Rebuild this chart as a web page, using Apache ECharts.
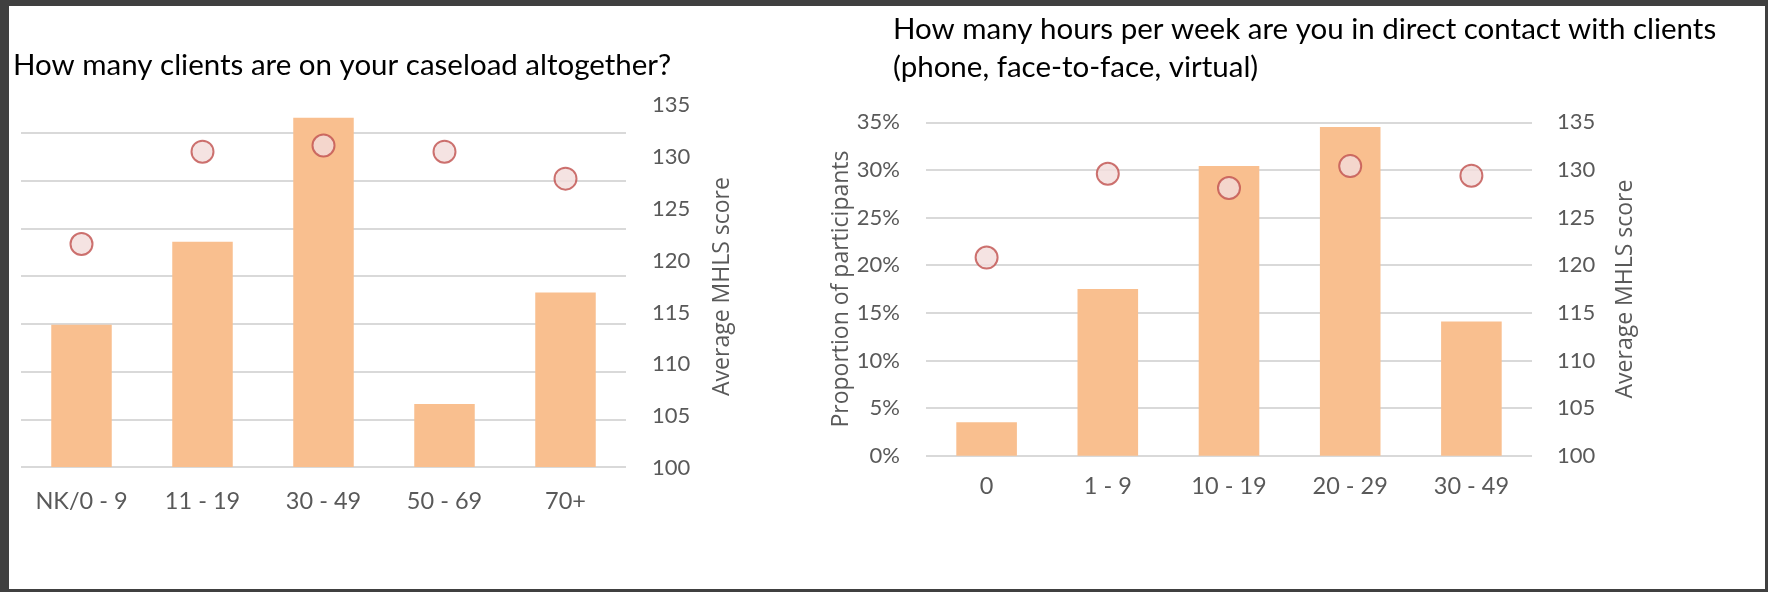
<!DOCTYPE html>
<html>
<head>
<meta charset="utf-8">
<script src="https://cdn.jsdelivr.net/npm/echarts@6/dist/echarts.min.js"></script>
<style>
html,body{margin:0;padding:0;background:#404040;width:1768px;height:592px;overflow:hidden;}
#panel{position:absolute;left:9px;top:6px;width:1756px;height:583px;background:#fff;}
#chart{position:absolute;left:0;top:0;width:1768px;height:592px;}
</style>
</head>
<body>
<div id="panel"></div>
<div id="chart"></div>
<script>
// ---- data ----
const leftTitle = 'How many clients are on your caseload altogether?';
const rightTitle = 'How many hours per week are you in direct contact with clients\n(phone, face-to-face, virtual)';
const leftCategories = ['NK/0 - 9', '11 - 19', '30 - 49', '50 - 69', '70+'];
const leftShare = [14.9, 23.6, 36.6, 6.6, 18.3];        // % of participants
const leftScore = [121.6, 130.5, 131.1, 130.5, 127.9];  // Average MHLS score
const rightCategories = ['0', '1 - 9', '10 - 19', '20 - 29', '30 - 49'];
const rightShare = [3.5, 17.5, 30.4, 34.5, 14.1];
const rightScore = [120.8, 129.6, 128.1, 130.4, 129.4];
const scoreAxisName = 'Average MHLS score';
const shareAxisName = 'Proportion of participants';

const BAR = '#F9BF8F';
const GRID = '#D9D9D9';
const LABEL = '#595959';
const FONT = 'Lato';
const NAMEFONT = 'Open Sans';

const chart = echarts.init(document.getElementById('chart'), null, {renderer: 'canvas'});

const tickLabel = {color: LABEL, fontFamily: FONT, fontSize: 22};
const catLabel = {color: LABEL, fontFamily: FONT, fontSize: 23.5, interval: 0};
const pointStyle = {color: '#F2DCDB', borderColor: '#C0504D', borderWidth: 2};

const option = {
  backgroundColor: 'transparent',
  animation: false,
  title: [
    {text: leftTitle, left: 13, top: 50.5, padding: 0,
     textStyle: {fontFamily: FONT, fontSize: 29.5, fontWeight: 'normal', color: '#000'}},
    {text: rightTitle, left: 893, top: 10.5, padding: 0,
     textStyle: {fontFamily: FONT, fontSize: 29.5, fontWeight: 'normal', color: '#000', lineHeight: 38}}
  ],
  grid: [
    {left: 21, right: 1142, top: 85.4, bottom: 125},
    {left: 21, right: 1142, top: 105, bottom: 124},
    {left: 926, right: 236, top: 122.3, bottom: 136.3}
  ],
  xAxis: [
    {type: 'category', gridIndex: 0, data: leftCategories,
     axisLine: {show: false}, axisTick: {show: false},
     axisLabel: Object.assign({margin: 22}, catLabel)},
    {type: 'category', gridIndex: 1, data: leftCategories, show: false},
    {type: 'category', gridIndex: 2, data: rightCategories,
     axisLine: {show: false}, axisTick: {show: false},
     axisLabel: Object.assign({margin: 19}, catLabel)}
  ],
  yAxis: [
    {type: 'value', gridIndex: 0, min: 0, max: 40, interval: 5,
     axisLabel: {show: false}, axisLine: {show: false}, axisTick: {show: false},
     splitLine: {show: true, showMaxLine: false, lineStyle: {color: GRID, width: 2}}},
    {type: 'value', gridIndex: 1, position: 'right', min: 100, max: 135, interval: 5,
     axisLine: {show: false}, axisTick: {show: false}, splitLine: {show: false},
     axisLabel: Object.assign({margin: 26}, tickLabel),
     name: scoreAxisName, nameLocation: 'middle', nameRotate: 90, nameGap: 85,
     nameTextStyle: {fontFamily: NAMEFONT, fontSize: 23, color: LABEL}},
    {type: 'value', gridIndex: 2, position: 'left', min: 0, max: 35, interval: 5,
     axisLine: {show: false}, axisTick: {show: false},
     splitLine: {show: true, lineStyle: {color: GRID, width: 2}},
     axisLabel: Object.assign({margin: 26, formatter: '{value}%'}, tickLabel),
     name: shareAxisName, nameLocation: 'middle', nameRotate: 90, nameGap: 73,
     nameTextStyle: {fontFamily: NAMEFONT, fontSize: 23, color: LABEL}},
    {type: 'value', gridIndex: 2, position: 'right', min: 100, max: 135, interval: 5,
     axisLine: {show: false}, axisTick: {show: false}, splitLine: {show: false},
     axisLabel: Object.assign({margin: 25}, tickLabel),
     name: scoreAxisName, nameLocation: 'middle', nameRotate: 90, nameGap: 82,
     nameTextStyle: {fontFamily: NAMEFONT, fontSize: 23, color: LABEL}}
  ],
  series: [
    {type: 'bar', xAxisIndex: 0, yAxisIndex: 0, data: leftShare, barWidth: '50%',
     itemStyle: {color: BAR}, z: 2},
    {type: 'scatter', xAxisIndex: 1, yAxisIndex: 1, data: leftScore, symbol: 'circle',
     symbolSize: 22, itemStyle: pointStyle, z: 3},
    {type: 'bar', xAxisIndex: 2, yAxisIndex: 2, data: rightShare, barWidth: '50%',
     itemStyle: {color: BAR}, z: 2},
    {type: 'scatter', xAxisIndex: 2, yAxisIndex: 3, data: rightScore, symbol: 'circle',
     symbolSize: 22, itemStyle: pointStyle, z: 3}
  ]
};
chart.setOption(option);
</script>
</body>
</html>
